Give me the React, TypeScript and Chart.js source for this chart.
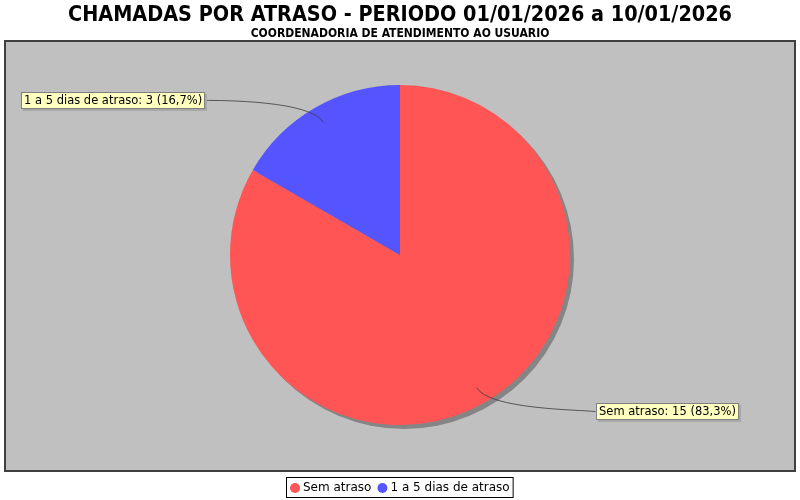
import React, { useEffect, useRef } from "react";
import { Chart, registerables } from "chart.js";

Chart.register(...registerables);

const TITLE = "CHAMADAS POR ATRASO - PERIODO 01/01/2026 a 10/01/2026";
const SUBTITLE = "COORDENADORIA DE ATENDIMENTO AO USUARIO";
const categories = ["Sem atraso", "1 a 5 dias de atraso"];
const values = [15, 3];
const colors = ["#FF5555", "#5555FF"];

const fmtPct = (v: number, total: number) =>
  (Math.round((v / total) * 1000) / 10).toFixed(1).replace(".", ",") + "%";

function drawFitText(
  ctx: CanvasRenderingContext2D,
  text: string,
  font: string,
  cx: number,
  baseline: number,
  targetWidth: number,
  color: string
) {
  ctx.save();
  ctx.font = font;
  const w = ctx.measureText(text).width;
  const sx = Math.min(1, targetWidth / w);
  ctx.translate(cx, baseline);
  ctx.scale(sx, 1);
  ctx.fillStyle = color;
  ctx.textAlign = "center";
  ctx.textBaseline = "alphabetic";
  ctx.fillText(text, 0, 0);
  ctx.restore();
}

const jfreePlugin = {
  id: "jfreeStyle",
  beforeDraw(chart: any) {
    const ctx: CanvasRenderingContext2D = chart.ctx;
    const W = chart.width;
    const H = chart.height;
    ctx.save();
    ctx.fillStyle = "#FFFFFF";
    ctx.fillRect(0, 0, W, H);
    // plot area
    ctx.fillStyle = "#C0C0C0";
    ctx.fillRect(5, 41, 790, 430);
    ctx.strokeStyle = "#404040";
    ctx.lineWidth = 2;
    ctx.strokeRect(5, 41, 790, 430);
    // titles
    drawFitText(ctx, TITLE, "bold 22px 'DejaVu Sans Condensed', 'DejaVu Sans'", 400, 21, 664, "#000000");
    drawFitText(ctx, SUBTITLE, "bold 12px 'DejaVu Sans Condensed', 'DejaVu Sans'", 400, 37, 318, "#000000");
    // legend
    ctx.font = "12px 'DejaVu Sans'";
    ctx.textBaseline = "middle";
    ctx.textAlign = "left";
    const items = categories.map((c, i) => ({ text: c, color: colors[i], w: ctx.measureText(c).width }));
    const dot = 10;
    const gapDotText = 3;
    const gapItems = 6;
    const padX = 4;
    let total = padX * 2;
    items.forEach((it, i) => {
      total += dot + gapDotText + it.w + (i < items.length - 1 ? gapItems : 0);
    });
    const boxX = Math.round(400 - total / 2);
    const boxY = 477;
    const boxH = 21;
    ctx.fillStyle = "#FFFFFF";
    ctx.fillRect(boxX, boxY, total, boxH);
    ctx.strokeStyle = "#000000";
    ctx.lineWidth = 1;
    ctx.strokeRect(boxX + 0.5, boxY + 0.5, total - 1, boxH - 1);
    let x = boxX + padX;
    const cy = boxY + boxH / 2 + 0.5;
    items.forEach((it) => {
      ctx.fillStyle = it.color;
      ctx.beginPath();
      ctx.arc(x + dot / 2, cy, dot / 2, 0, Math.PI * 2);
      ctx.fill();
      x += dot + gapDotText;
      ctx.fillStyle = "#000000";
      ctx.fillText(it.text, x, cy);
      x += it.w + gapItems;
    });
    ctx.restore();
  },
  beforeDatasetsDraw(chart: any) {
    const ctx: CanvasRenderingContext2D = chart.ctx;
    const meta = chart.getDatasetMeta(0);
    ctx.save();
    ctx.fillStyle = "#858585";
    meta.data.forEach((arc: any) => {
      const { x, y, startAngle, endAngle, outerRadius } = arc.getProps(
        ["x", "y", "startAngle", "endAngle", "outerRadius"],
        true
      );
      ctx.beginPath();
      ctx.moveTo(x + 4, y + 4);
      ctx.arc(x + 4, y + 4, outerRadius, startAngle, endAngle);
      ctx.closePath();
      ctx.fill();
    });
    ctx.restore();
  },
  afterDatasetsDraw(chart: any) {
    const ctx: CanvasRenderingContext2D = chart.ctx;
    const meta = chart.getDatasetMeta(0);
    const data: number[] = chart.data.datasets[0].data;
    const total = data.reduce((a, b) => a + b, 0);
    ctx.save();
    ctx.font = "11.5px 'DejaVu Sans'";
    ctx.textBaseline = "middle";
    ctx.textAlign = "left";
    meta.data.forEach((arc: any, i: number) => {
      const { x, y, startAngle, endAngle, outerRadius } = arc.getProps(
        ["x", "y", "startAngle", "endAngle", "outerRadius"],
        true
      );
      const mid = (startAngle + endAngle) / 2;
      const c = Math.cos(mid);
      const s = Math.sin(mid);
      const linkX = x + c * outerRadius * 0.9;
      const linkY = y + s * outerRadius * 0.9;
      const lr = outerRadius * 1.05;
      const elbowX = x + c * lr;
      const elbowY = y + s * lr;
      const left = c < 0;
      const anchorX = left ? x - lr : x + lr;
      const targetX = left ? anchorX - 17 : anchorX + 17;
      const targetY = elbowY + (left ? 0 : 2);
      const label = `${chart.data.labels[i]}: ${data[i]} (${fmtPct(data[i], total)})`;
      const tw = ctx.measureText(label).width;
      const bw = Math.round(tw + 6);
      const bh = 17;
      const bx = Math.round(left ? targetX - bw : targetX);
      const by = Math.round(targetY - bh / 2);
      // link
      ctx.strokeStyle = "#3a3a3a";
      ctx.lineWidth = 0.8;
      ctx.beginPath();
      ctx.moveTo(targetX, targetY);
      ctx.bezierCurveTo(anchorX, elbowY, elbowX, elbowY, linkX, linkY);
      ctx.stroke();
      // shadow
      ctx.fillStyle = "#A8A8A8";
      ctx.fillRect(bx + 2, by + 2, bw, bh);
      // box
      ctx.fillStyle = "#FFFFC0";
      ctx.fillRect(bx, by, bw, bh);
      ctx.strokeStyle = "#808080";
      ctx.lineWidth = 1;
      ctx.strokeRect(bx + 0.5, by + 0.5, bw - 1, bh - 1);
      ctx.fillStyle = "#000000";
      ctx.fillText(label, bx + 3, by + bh / 2 + 0.5);
    });
    ctx.restore();
  },
};

export default function App() {
  const canvasRef = useRef<HTMLCanvasElement | null>(null);
  useEffect(() => {
    if (!canvasRef.current) return;
    const chart = new Chart(canvasRef.current, {
      type: "pie",
      data: {
        labels: categories,
        datasets: [
          {
            data: values,
            backgroundColor: colors,
            borderWidth: 0,
            hoverOffset: 0,
          },
        ],
      },
      options: {
        responsive: false,
        animation: false,
        events: [],
        layout: { padding: { left: 230, right: 230, top: 85, bottom: 75 } },
        plugins: {
          legend: { display: false },
          title: { display: false },
          tooltip: { enabled: false },
        },
      },
      plugins: [jfreePlugin],
    });
    return () => chart.destroy();
  }, []);
  return (
    <div style={{ position: "fixed", left: 0, top: 0, width: 800, height: 500, background: "#fff" }}>
      <canvas ref={canvasRef} width={800} height={500} style={{ display: "block" }} />
    </div>
  );
}
